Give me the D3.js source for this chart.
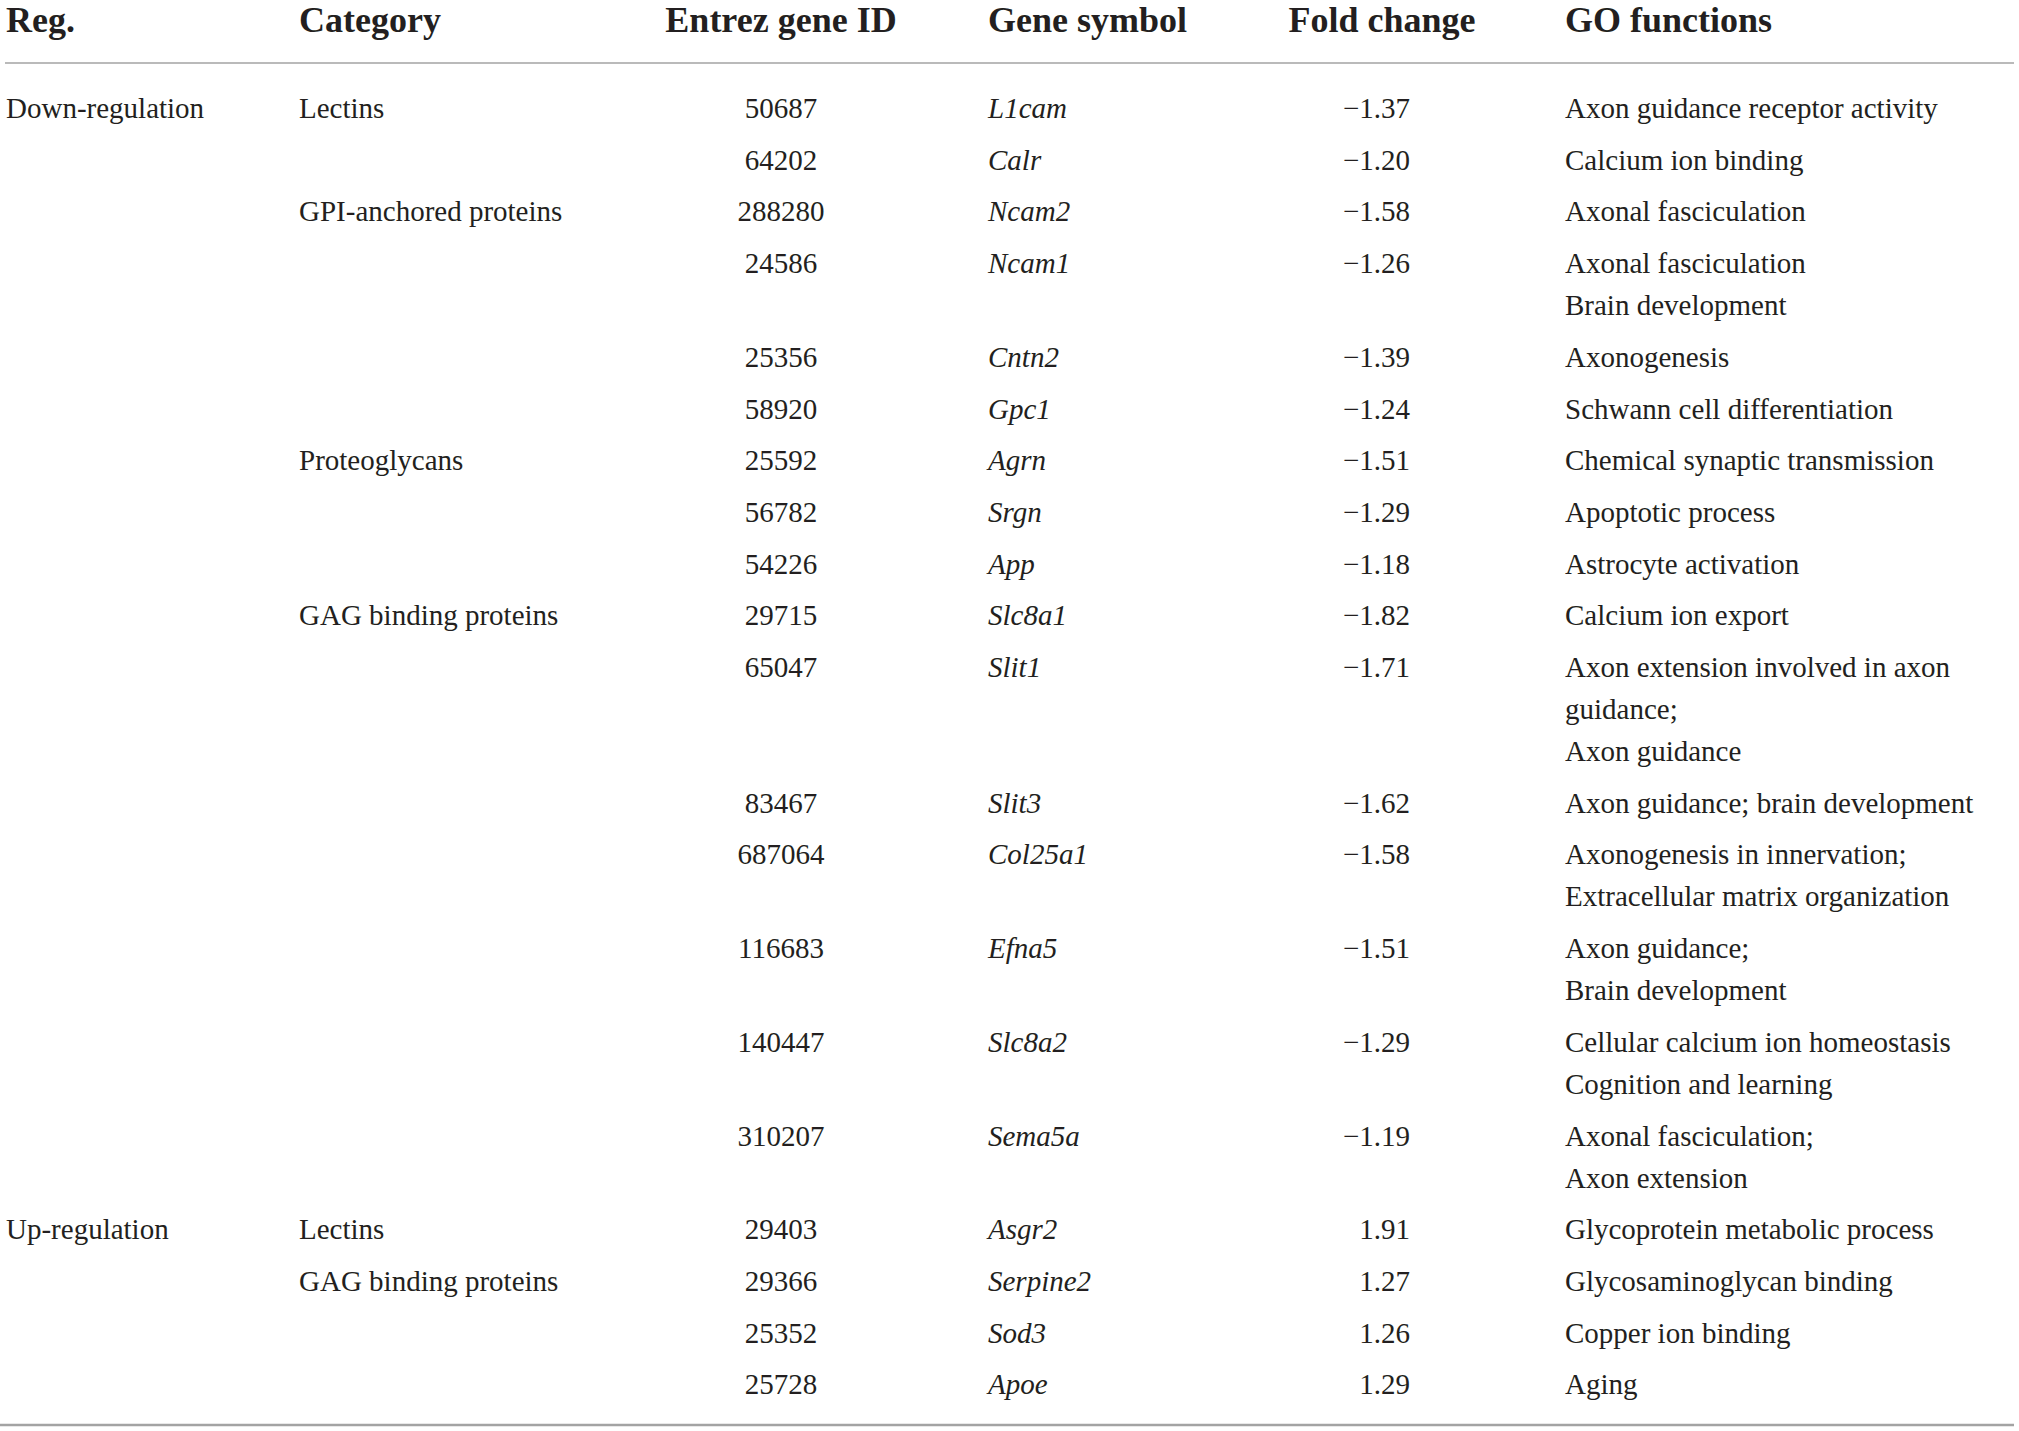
<!DOCTYPE html>
<html>
<head>
<meta charset="utf-8">
<script src="https://cdn.jsdelivr.net/npm/d3@7"></script>
<style>
  body { margin: 0; background: #fff; }
  svg { display: block; }
</style>
</head>
<body>
<div id="table"></div>
<script>
// Table data, one entry per row
const headers = ['Reg.', 'Category', 'Entrez gene ID', 'Gene symbol', 'Fold change', 'GO functions'];

const regulation = ['Down-regulation', '', '', '', '', '', '', '', '', '', '', '', '', '', '', '',
                    'Up-regulation', '', '', ''];

const categories = ['Lectins', '', 'GPI-anchored proteins', '', '', '', 'Proteoglycans', '', '',
                    'GAG binding proteins', '', '', '', '', '', '',
                    'Lectins', 'GAG binding proteins', '', ''];

const entrezIds = ['50687', '64202', '288280', '24586', '25356', '58920', '25592', '56782', '54226',
                   '29715', '65047', '83467', '687064', '116683', '140447', '310207',
                   '29403', '29366', '25352', '25728'];

const geneSymbols = ['L1cam', 'Calr', 'Ncam2', 'Ncam1', 'Cntn2', 'Gpc1', 'Agrn', 'Srgn', 'App',
                     'Slc8a1', 'Slit1', 'Slit3', 'Col25a1', 'Efna5', 'Slc8a2', 'Sema5a',
                     'Asgr2', 'Serpine2', 'Sod3', 'Apoe'];

const foldChanges = [-1.37, -1.20, -1.58, -1.26, -1.39, -1.24, -1.51, -1.29, -1.18,
                     -1.82, -1.71, -1.62, -1.58, -1.51, -1.29, -1.19,
                     1.91, 1.27, 1.26, 1.29];

const goFunctions = [
    ['Axon guidance receptor activity'],
    ['Calcium ion binding'],
    ['Axonal fasciculation'],
    ['Axonal fasciculation', 'Brain development'],
    ['Axonogenesis'],
    ['Schwann cell differentiation'],
    ['Chemical synaptic transmission'],
    ['Apoptotic process'],
    ['Astrocyte activation'],
    ['Calcium ion export'],
    ['Axon extension involved in axon', 'guidance;', 'Axon guidance'],
    ['Axon guidance; brain development'],
    ['Axonogenesis in innervation;', 'Extracellular matrix organization'],
    ['Axon guidance;', 'Brain development'],
    ['Cellular calcium ion homeostasis', 'Cognition and learning'],
    ['Axonal fasciculation;', 'Axon extension'],
    ['Glycoprotein metabolic process'],
    ['Glycosaminoglycan binding'],
    ['Copper ion binding'],
    ['Aging']
];

const width = 2019;
const height = 1431;
const textColor = '#231f20';
const ruleColor = '#a3a3a3';
const fontFamily = '"Liberation Serif", "Times New Roman", serif';

const rowGap = 51.7;   // baseline of last line -> baseline of next row
const lineGap = 42;    // line spacing inside a cell
const firstBaseline = 118;

// column x positions and alignment
const columns = [
    { x: 6, anchor: 'start' },
    { x: 299, anchor: 'start' },
    { x: 781, anchor: 'middle' },
    { x: 988, anchor: 'start' },
    { x: 1410, anchor: 'end' },
    { x: 1565, anchor: 'start' }
];
const headerX = [6, 299, 781, 988, 1382, 1565];
const headerAnchor = ['start', 'start', 'middle', 'start', 'middle', 'start'];

// extra lines used by the rows above each row
const extraLines = [0].concat(Array.from(d3.cumsum(goFunctions, lines => lines.length - 1)));

const y = d3.scaleLinear().domain([0, 1]).range([firstBaseline, firstBaseline + rowGap]);
function rowY(i) {
    return y(i) + extraLines[i] * lineGap;
}

const fmt = v => (v < 0 ? '\u2212' : '') + Math.abs(v).toFixed(2);

const svg = d3.select('#table')
    .append('svg')
    .attr('width', width)
    .attr('height', height)
    .style('font-family', fontFamily);

// Header
svg.append('g')
    .selectAll('text')
    .data(headers)
    .enter()
    .append('text')
    .attr('x', (d, i) => headerX[i])
    .attr('y', 32)
    .attr('text-anchor', (d, i) => headerAnchor[i])
    .style('font-size', '36px')
    .style('font-weight', 'bold')
    .style('fill', textColor)
    .text(d => d);

// Rules
svg.append('line')
    .attr('x1', 5).attr('x2', 2014)
    .attr('y1', 63).attr('y2', 63)
    .attr('stroke', ruleColor)
    .attr('stroke-width', 1.5);

svg.append('line')
    .attr('x1', 0).attr('x2', 2014)
    .attr('y1', 1425).attr('y2', 1425)
    .attr('stroke', ruleColor)
    .attr('stroke-width', 2.5);

// Body rows
const rows = entrezIds.map((id, i) => ({
    cells: [regulation[i], categories[i], id, geneSymbols[i], fmt(foldChanges[i]), goFunctions[i]],
    y: rowY(i)
}));

const body = svg.append('g')
    .style('font-size', '29px')
    .style('fill', textColor);

const row = body.selectAll('.row')
    .data(rows)
    .enter()
    .append('g')
    .attr('class', 'row')
    .attr('transform', d => `translate(0, ${d.y})`);

row.each(function(d) {
    const g = d3.select(this);
    d.cells.forEach((cell, c) => {
        const lines = Array.isArray(cell) ? cell : [cell];
        lines.forEach((line, k) => {
            if (!line) return;
            g.append('text')
                .attr('x', columns[c].x)
                .attr('y', k * lineGap)
                .attr('text-anchor', columns[c].anchor)
                .style('font-style', c === 3 ? 'italic' : 'normal')
                .text(line);
        });
    });
});
</script>
</body>
</html>
